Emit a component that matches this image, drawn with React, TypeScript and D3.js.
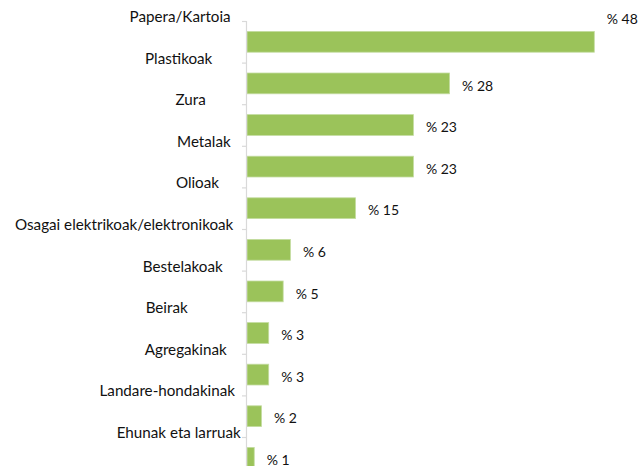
import React from "react";
import * as d3 from "d3";

const categories = [
  "Papera/Kartoia",
  "Plastikoak",
  "Zura",
  "Metalak",
  "Olioak",
  "Osagai elektrikoak/elektronikoak",
  "Bestelakoak",
  "Beirak",
  "Agregakinak",
  "Landare-hondakinak",
  "Ehunak eta larruak",
];
const values = [48, 28, 23, 23, 15, 6, 5, 3, 3, 2, 1];
const valuePrefix = "% ";

// layout (label right edges as drawn in the reference)
const labelRight = [230.7, 212.3, 205.7, 230.7, 219, 233.3, 222.7, 187.7, 226.7, 235, 240.7];

const W = 638;
const H = 466;
const axisX = 246.5;
const top = 21;
const step = 41.6;
const FONT = "Lato, 'Open Sans', sans-serif";

export default function App() {
  const y = d3
    .scaleBand<string>()
    .domain(categories)
    .range([top, top + step * categories.length])
    .padding(0);
  const x = d3.scaleLinear().domain([0, 48]).range([axisX + 0.5, 594.3]);
  const bh = y.step() * 0.5;
  const maxV = d3.max(values) as number;

  return (
    <svg
      width={W}
      height={H}
      style={{ position: "absolute", left: 0, top: 0, background: "#fff" }}
      fontFamily={FONT}
    >
      {/* bars */}
      {categories.map((c, i) => {
        const y0 = (y(c) as number) + (y.step() - bh) / 2;
        return (
          <rect
            key={c}
            x={x(0)}
            y={y0}
            width={x(values[i]) - x(0)}
            height={bh}
            fill="#9BC35A"
            stroke="#C4DCA0"
            strokeWidth={0.8}
          />
        );
      })}
      {/* axis line and ticks */}
      <line x1={axisX} x2={axisX} y1={top} y2={H + 20} stroke="#D9D9D9" strokeWidth={1.2} />
      {categories.map((c) => (
        <line
          key={"t" + c}
          x1={axisX - 4.5}
          x2={axisX}
          y1={(y(c) as number) + 0.5}
          y2={(y(c) as number) + 0.5}
          stroke="#D9D9D9"
          strokeWidth={1.2}
        />
      ))}
      {/* category labels */}
      {categories.map((c, i) => (
        <text
          key={"l" + c}
          x={labelRight[i]}
          y={(y(c) as number) + 1}
          textAnchor="end"
          fontSize={15.2}
          fill="#111"
        >
          {c}
        </text>
      ))}
      {/* value labels */}
      {categories.map((c, i) => {
        const isMax = values[i] === maxV;
        const ty = isMax ? (y(c) as number) + 3 : (y(c) as number) + 28;
        return (
          <text
            key={"v" + c}
            x={x(values[i]) + 12.5}
            y={ty}
            fontSize={14}
            fill="#111"
          >
            {valuePrefix + values[i]}
          </text>
        );
      })}
    </svg>
  );
}
